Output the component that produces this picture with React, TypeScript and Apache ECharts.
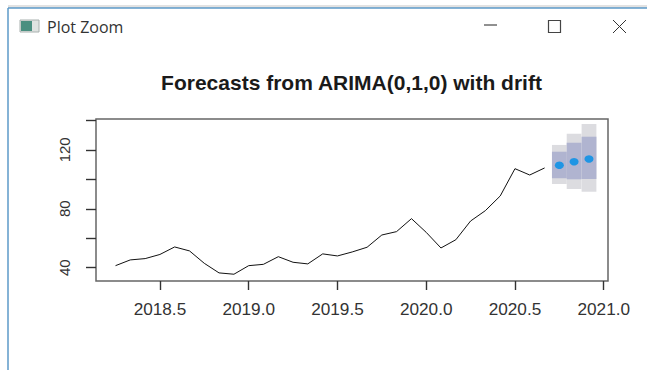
import React, { useEffect, useRef } from "react";
import * as echarts from "echarts";

const years = [
  2018.25, 2018.333, 2018.417, 2018.5, 2018.583, 2018.667, 2018.75, 2018.833, 2018.917,
  2019.0, 2019.083, 2019.167, 2019.25, 2019.333, 2019.417, 2019.5, 2019.583, 2019.667, 2019.75, 2019.833, 2019.917,
  2020.0, 2020.083, 2020.167, 2020.25, 2020.333, 2020.417, 2020.5, 2020.583, 2020.667,
];
const observed = [
  41.4, 45.3, 46.2, 49, 54.1, 51.4, 43, 36.5, 35.6,
  41.4, 42.3, 47.5, 43.7, 42.6, 49.4, 48, 50.7, 53.9, 62.2, 64.5, 73.3,
  64, 53.4, 59, 71.7, 78.7, 88.7, 107.2, 102.9, 107.7,
];
const forecastYears = [2020.75, 2020.833, 2020.917];
const forecastMean = [109.5, 111.9, 113.8];
const lo80 = [100.7, 100, 100.2];
const hi80 = [118.7, 124.8, 128.9];
const lo95 = [96.8, 93.4, 91.6];
const hi95 = [123.3, 130.9, 137.5];
const xTicks = [2018.5, 2019, 2019.5, 2020, 2020.5, 2021];
const yTicks = [40, 60, 80, 100, 120, 140];
const yLabels = [40, 80, 120];
const titleText = "Forecasts from ARIMA(0,1,0) with drift";
const windowTitle = "Plot Zoom";

const FONT = '"Liberation Sans", Arial, sans-serif';
const HALF_MONTH = 1 / 24;

function bandSeries(lo: number[], hi: number[], color: string, z: number) {
  return {
    type: "custom",
    z,
    silent: true,
    clip: false,
    data: forecastYears.map((t, i) => [t, lo[i], hi[i]]),
    encode: { x: 0, y: [1, 2] },
    renderItem: (_p: any, api: any) => {
      const a = api.coord([api.value(0) - HALF_MONTH, api.value(2)]);
      const b = api.coord([api.value(0) + HALF_MONTH, api.value(1)]);
      return {
        type: "rect",
        shape: { x: a[0], y: a[1], width: b[0] - a[0], height: b[1] - a[1] },
        style: { fill: color, stroke: null },
      };
    },
  };
}

export default function App() {
  const ref = useRef<HTMLDivElement>(null);
  useEffect(() => {
    document.body.style.margin = "0";
    const chart = echarts.init(ref.current!, null, { renderer: "svg" });
    const stroke = (color: string, width: number) => ({ stroke: color, lineWidth: width, fill: null });
    chart.setOption({
      animation: false,
      backgroundColor: "#ffffff",
      title: {
        text: titleText,
        left: 346.5,
        top: 66.5,
        textAlign: "center",
        textStyle: { fontFamily: FONT, fontWeight: "bold", fontSize: 21, color: "#1a1a1a" },
      },
      grid: { show: true, left: 96, right: 39, top: 119, bottom: 89, borderColor: "#666666", borderWidth: 1.5, backgroundColor: "transparent" },
      xAxis: {
        type: "value",
        min: 2018.14,
        max: 2021.024,
        splitLine: { show: false },
        axisLine: { show: false },
        axisTick: { show: true, length: 9, customValues: xTicks, lineStyle: { color: "#333333", width: 1.4 } },
        axisLabel: {
          customValues: xTicks,
          formatter: (v: number) => v.toFixed(1),
          margin: 19,
          fontFamily: FONT,
          fontSize: 17.2,
          color: "#333333",
        },
      },
      yAxis: {
        type: "value",
        min: 31,
        max: 140.9,
        splitLine: { show: false },
        axisLine: { show: false },
        axisTick: { show: true, length: 10, customValues: yTicks, lineStyle: { color: "#333333", width: 1.4 } },
        axisLabel: {
          customValues: yLabels,
          rotate: 90,
          margin: 32,
          align: "center",
          verticalAlign: "middle",
          fontFamily: FONT,
          fontSize: 15,
          color: "#333333",
        },
      },
      graphic: [
        { type: "rect", shape: { x: 8, y: 5, width: 639, height: 3 }, style: { fill: "#e2e2e2" } },
        { type: "line", shape: { x1: 8, y1: 8, x2: 647, y2: 8 }, style: stroke("#5c9ac8", 1.5) },
        { type: "line", shape: { x1: 8, y1: 8, x2: 8, y2: 370 }, style: stroke("#5c9ac8", 1.5) },
        { type: "rect", shape: { x: 20, y: 20, width: 19, height: 12 }, style: { fill: "#dfe3e1", stroke: "#a8b0ae", lineWidth: 1 } },
        { type: "rect", shape: { x: 21, y: 21, width: 11, height: 10 }, style: { fill: "#4a8f80" } },
        {
          type: "text",
          x: 47,
          y: 27,
          style: { text: windowTitle, fontFamily: '"Open Sans", sans-serif', fontSize: 16, fill: "#333333", textAlign: "left", textVerticalAlign: "middle" },
        },
        { type: "line", shape: { x1: 484, y1: 25, x2: 497, y2: 25 }, style: stroke("#222222", 1) },
        { type: "rect", shape: { x: 548.5, y: 20.5, width: 12, height: 12 }, style: stroke("#444444", 1.2) },
        { type: "line", shape: { x1: 613, y1: 20, x2: 626, y2: 33 }, style: stroke("#333333", 1) },
        { type: "line", shape: { x1: 626, y1: 20, x2: 613, y2: 33 }, style: stroke("#333333", 1) },
      ],
      series: [
        bandSeries(lo95, hi95, "#dcdce0", 1),
        bandSeries(lo80, hi80, "#b0b4d0", 2),
        {
          type: "line",
          z: 3,
          data: years.map((t, i) => [t, observed[i]]),
          showSymbol: false,
          symbol: "none",
          lineStyle: { color: "#111111", width: 1 },
        },
        {
          type: "scatter",
          z: 4,
          data: forecastYears.map((t, i) => [t, forecastMean[i]]),
          symbol: "circle",
          symbolSize: [9, 7.5],
          itemStyle: { color: "#1f95e4", opacity: 1 },
        },
      ],
    });
    return () => chart.dispose();
  }, []);
  return <div ref={ref} style={{ width: 647, height: 370 }} />;
}
